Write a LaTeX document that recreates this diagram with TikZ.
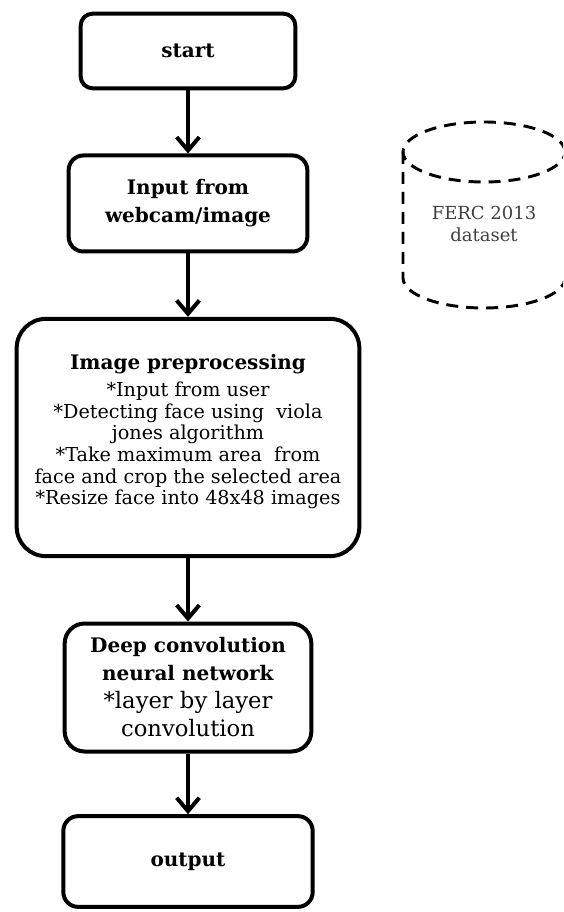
\documentclass[tikz,border=0pt]{standalone}
\usepackage{fontspec}
\setmainfont{DejaVu Serif}
\usepackage{tikz}
\usetikzlibrary{arrows.meta}
\tikzstyle{box}=[draw, line width=3pt, align=center, inner sep=0pt]
\tikzstyle{flow}=[line width=3pt, -{Straight Barb[length=10pt,width=17pt]}]
\tikzstyle{dashdata}=[line width=2.2pt, dash pattern=on 9pt off 6pt]
\definecolor{datagray}{rgb}{0.25, 0.25, 0.25}

\begin{document}
\begin{tikzpicture}[x=0.75pt, y=0.75pt]
        \useasboundingbox (0,0) rectangle (563,-912);
        \clip (0,0) rectangle (563,-912);
        \node[box, rounded corners=9pt, minimum width=161pt, minimum height=56pt,
              font=\fontsize{15}{21}\selectfont\bfseries] (start) at (188,-51) {start};
        \node[box, rounded corners=11pt, minimum width=179pt, minimum height=72pt,
              font=\fontsize{15}{21}\selectfont\bfseries] (input) at (188,-203.5) {Input from\\webcam/image};
        \node[box, rounded corners=22pt, minimum width=257pt, minimum height=178pt,
              font=\fontsize{14.4}{16.2}\selectfont] (prep) at (188,-437.5)
                {{\fontsize{15}{20}\selectfont\bfseries Image preprocessing}\\[4.5pt]
                 *Input from user\\ *Detecting face using\ \ viola\\ jones algorithm\\
                 *Take maximum area\ \ from\\ face and crop the selected area\\ *Resize face into 48x48 images\\[-4pt]\mbox{}};
        \node[box, rounded corners=15pt, minimum width=185pt, minimum height=96pt,
              font=\fontsize{15}{21}\selectfont] (deep) at (188,-687.5)
                {\textbf{Deep convolution}\\ \textbf{neural network}\\ {\fontsize{17}{21}\selectfont *layer by layer}\\ {\fontsize{17}{21}\selectfont convolution}};
        \node[box, rounded corners=11pt, minimum width=187pt, minimum height=68pt,
              font=\fontsize{15}{21}\selectfont\bfseries] (output) at (188,-861.5) {output};
        \draw[flow] (start) -- (input);
        \draw[flow] (input) -- (prep);
        \draw[flow] (prep) -- (deep);
        \draw[flow] (deep) -- (output);
        % dataset cylinder, cut by the right edge
        \draw[dashdata] (484,-152) ellipse [x radius=81, y radius=30];
        \draw[dashdata] (403,-152) -- (403,-278) arc[start angle=180, end angle=360, x radius=81, y radius=30] -- (565,-152);
        \node[align=center, text=datagray, font=\fontsize{13.5}{17}\selectfont] (dataset) at (484,-224) {FERC 2013\\dataset};
\end{tikzpicture}
\end{document}
